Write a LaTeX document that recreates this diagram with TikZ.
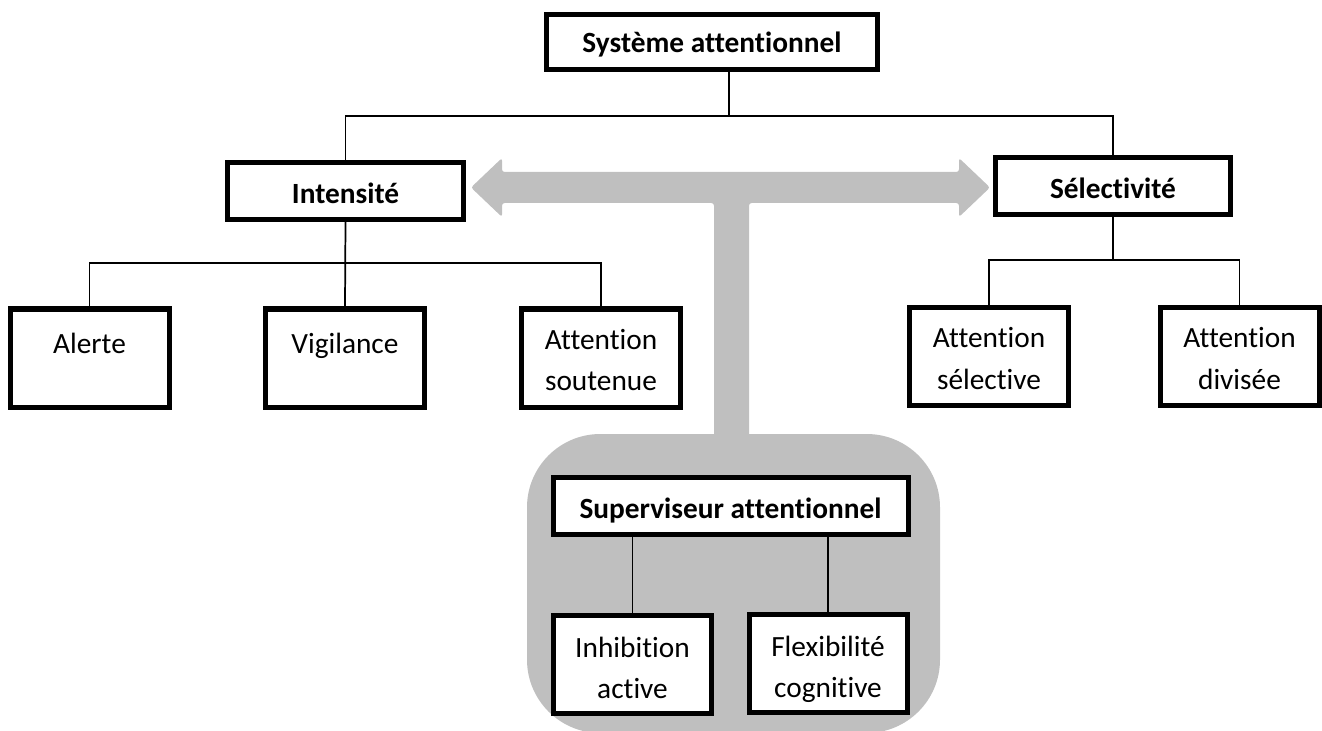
\documentclass[tikz,border=0pt]{standalone}
\usepackage{fontspec}
\setmainfont[Ligatures=NoCommon]{Carlito}
\definecolor{panelgray}{HTML}{BFBFBF}
% struts that fix where the text lines sit inside the boxes
\newcommand{\hstrut}{\rule[-3pt]{0pt}{25pt}}
\newcommand{\toprule}[1]{\rule{0pt}{#1pt}}
\newcommand{\botrule}{\rule[-4pt]{0pt}{0pt}}
\begin{document}
\begin{tikzpicture}[x=0.75pt,y=-0.75pt,
  box/.style={draw=black,line width=3.75pt,fill=white,inner sep=0pt,
    align=center,font=\fontsize{22}{31}\selectfont},
  headbox/.style={box,font=\fontsize{22}{31}\selectfont\bfseries},
  leafbox/.style={box,minimum width=119.25pt,minimum height=73.5pt},
  link/.style={draw=black,line width=1.3pt}]
\useasboundingbox (0,0) rectangle (1322,731);

% grey supervisor panel and double arrow with its stem
\fill[panelgray,rounded corners=55] (527,434) rectangle (940,733);
\fill[panelgray,rounded corners=2] (471,187.5) -- (502,158) -- (502,172) -- (959,172)
  -- (959,158) -- (990,187.5) -- (959,217) -- (959,203) -- (749,203)
  -- (749,440) -- (714,440) -- (714,203) -- (502,203) -- (502,217) -- cycle;

% boxes
\node[headbox,minimum width=248.25pt,minimum height=41.25pt] (sys) at (712,42) {\rule[-3pt]{0pt}{22pt}Système attentionnel};
\node[headbox,minimum width=177pt,minimum height=42.75pt] (int) at (345.5,191) {\hstrut Intensité};
\node[headbox,minimum width=176.25pt,minimum height=42.75pt] (sel) at (1113,186) {\hstrut Sélectivité};

\node[leafbox] (alerte) at (89.5,358) {\toprule{28.6}Alerte\\\botrule};
\node[leafbox] (vig) at (345,358) {\toprule{28.6}Vigilance\\\botrule};
\node[leafbox] (sout) at (601,358) {\toprule{22}Attention\\soutenue\botrule};
\node[leafbox] (asel) at (989,356.5) {\toprule{22}Attention\\sélective\botrule};
\node[leafbox] (adiv) at (1239.5,356.5) {\toprule{22}Attention\\divisée\botrule};

\node[headbox,minimum width=266.25pt,minimum height=42.75pt] (sup) at (730.5,506) {\hstrut Superviseur attentionnel};
\node[leafbox,minimum width=118.5pt] (inh) at (632.5,664) {\toprule{25}Inhibition\\active\botrule};
\node[leafbox,minimum width=118.5pt] (flex) at (828,663) {\toprule{25}Flexibilité\\cognitive\botrule};

% junction points of the tree
\coordinate (systap) at (729,72);
\coordinate (sysbus) at (729,116);
\coordinate (intbus) at (345,263);
\coordinate (selbus) at (1113,260);

% connectors
\draw[link] (systap) -- (sysbus);
\draw[link] (int.north) |- (sysbus) -| (sel.north);
\draw[link] (int.south) -- (vig.north);
\draw[link] (alerte.north) |- (intbus) -| (sout.north);
\draw[link] (sel.south) -- (selbus);
\draw[link] (asel.north) |- (selbus) -| (adiv.north);
\draw[link] (inh.north) -- (inh.north |- sup.south);
\draw[link] (flex.north) -- (flex.north |- sup.south);
\end{tikzpicture}
\end{document}
